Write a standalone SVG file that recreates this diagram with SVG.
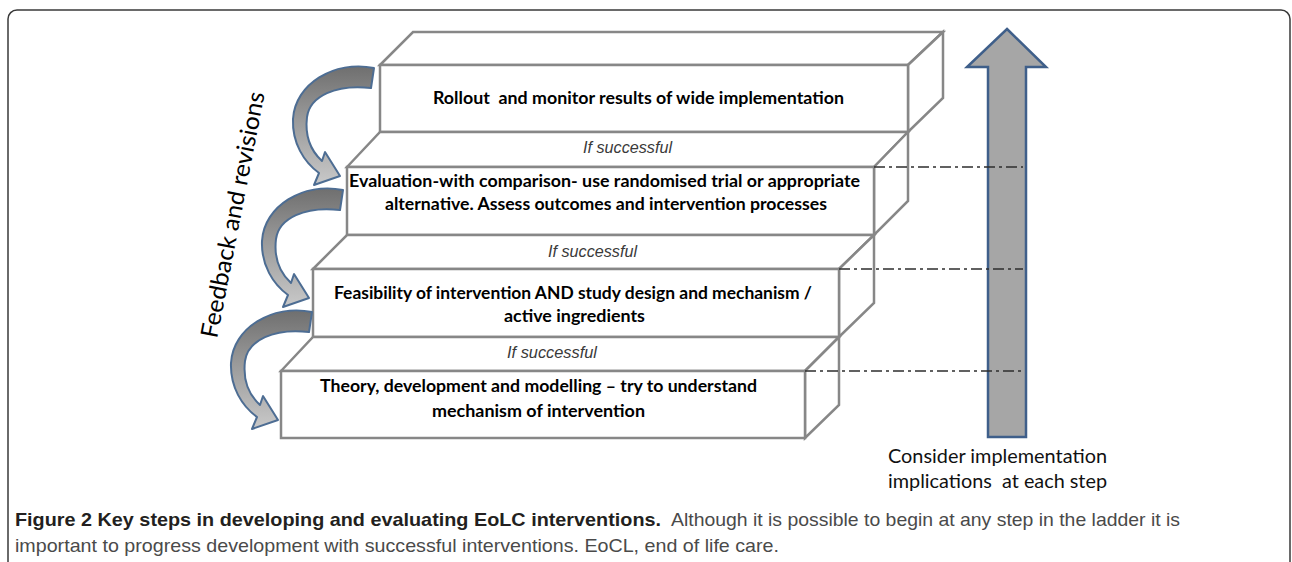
<svg xmlns="http://www.w3.org/2000/svg" xmlns:xlink="http://www.w3.org/1999/xlink" width="1292" height="562" viewBox="0 0 1292 562">
<defs>
<linearGradient id="arrowFill" x1="0" y1="0" x2="0" y2="1">
<stop offset="0" stop-color="#6f6f6f"/>
<stop offset="0.45" stop-color="#9a9a9a"/>
<stop offset="1" stop-color="#c9c9c9"/>
</linearGradient>
<path id="curvedArrow" d="M 374,68 C 334,60 295,84 293,119 C 292,143 304,162 319,173 L 314,185 L 340,176 L 325,152 L 322,161 C 310,150 305,134 307,117 C 310,96 336,84 371,88 Z"/>
</defs>
<style>
.frame{fill:none;stroke:#3a3a3a;stroke-width:1.5}
.face{fill:#ffffff;stroke:#878787;stroke-width:2.5;stroke-linejoin:miter}
.bt{font-family:Lato,"Liberation Sans",sans-serif;font-weight:bold;font-size:16.5px;fill:#000000}
.ifs{font-family:"Liberation Sans",Arial,sans-serif;font-style:italic;font-size:17px;fill:#3a3a3a}
.dd{fill:none;stroke:#2e2e2e;stroke-width:1.4;stroke-dasharray:11 4 3 4}
.carrow{fill:url(#arrowFill);stroke:#4d6d93;stroke-width:2;stroke-linejoin:round}
.big{fill:#a6a6a6;stroke:#3f5f8a;stroke-width:2.5}
.side{font-family:Lato,"Liberation Sans",sans-serif;font-size:19px;fill:#111111}
.fb{font-family:Lato,"Liberation Sans",sans-serif;font-size:24px;fill:#000000}
.capb{font-family:"Liberation Sans",Arial,sans-serif;font-weight:bold;font-size:19px;fill:#231f20}
.capr{font-family:"Liberation Sans",Arial,sans-serif;font-size:19px;fill:#4a4a4a}
.pre{white-space:pre}
</style>
<rect class="frame" x="8" y="10" width="1282" height="600" rx="9" ry="9"/>

<g id="step-rollout">
<polygon class="face" points="380,65 413,32 943,32 908,65"/>
<polygon class="face" points="908,65 943,32 943,98 908,132"/>
<rect class="face" x="380" y="65" width="528" height="67"/>
<text class="bt pre" x="433" y="104" textLength="411" lengthAdjust="spacingAndGlyphs">Rollout  and monitor results of wide implementation</text>
</g>

<g id="step-evaluation">
<polygon class="face" points="347,167 380,132 908,132 874,167"/>
<polygon class="face" points="874,167 908,132 908,201 874,235"/>
<rect class="face" x="347" y="167" width="527" height="68"/>
<text class="ifs" x="583" y="153" textLength="89" lengthAdjust="spacingAndGlyphs">If successful</text>
<text class="bt" x="349" y="187" textLength="511" lengthAdjust="spacingAndGlyphs">Evaluation-with comparison- use randomised trial or appropriate</text>
<text class="bt" x="385" y="210" textLength="442" lengthAdjust="spacingAndGlyphs">alternative. Assess outcomes and intervention processes</text>
</g>

<g id="step-feasibility">
<polygon class="face" points="313,269 347,235 874,235 839,269"/>
<polygon class="face" points="839,269 874,235 874,303 839,337"/>
<rect class="face" x="313" y="269" width="526" height="68"/>
<text class="ifs" x="548" y="257" textLength="89" lengthAdjust="spacingAndGlyphs">If successful</text>
<text class="bt" x="334" y="299" textLength="478" lengthAdjust="spacingAndGlyphs">Feasibility of intervention AND study design and mechanism /</text>
<text class="bt" x="504" y="322" textLength="141" lengthAdjust="spacingAndGlyphs">active ingredients</text>
</g>

<g id="step-theory">
<polygon class="face" points="281,371 313,337 839,337 805,371"/>
<polygon class="face" points="805,371 839,337 839,405 805,438"/>
<rect class="face" x="281" y="371" width="524" height="67"/>
<text class="ifs" x="507" y="358" textLength="90" lengthAdjust="spacingAndGlyphs">If successful</text>
<text class="bt" x="320" y="392" textLength="437" lengthAdjust="spacingAndGlyphs">Theory, development and modelling – try to understand</text>
<text class="bt" x="432" y="417" textLength="213" lengthAdjust="spacingAndGlyphs">mechanism of intervention</text>
</g>

<g id="implementation-arrow">
<polygon class="big" points="1007,29 1046,67 1026,67 1026,437 988,437 988,67 967,67"/>
<text class="side" x="888" y="463" textLength="219" lengthAdjust="spacingAndGlyphs">Consider implementation</text>
<text class="side pre" x="888" y="488" textLength="219" lengthAdjust="spacingAndGlyphs">implications  at each step</text>
</g>

<g id="feedback-label">
<text class="fb" transform="translate(217,339) rotate(-79)" x="0" y="0" textLength="250" lengthAdjust="spacingAndGlyphs">Feedback and revisions</text>
</g>

<g id="connectors">
<use xlink:href="#curvedArrow" href="#curvedArrow" class="carrow"/>
<use xlink:href="#curvedArrow" href="#curvedArrow" class="carrow" transform="translate(-31,122)"/>
<use xlink:href="#curvedArrow" href="#curvedArrow" class="carrow" transform="translate(-62,244)"/>
<line class="dd" x1="874" y1="167" x2="1023" y2="167"/>
<line class="dd" x1="839" y1="269" x2="1023" y2="269"/>
<line class="dd" x1="805" y1="371" x2="1023" y2="371"/>
</g>

<g id="caption">
<text class="capb" x="15" y="526" textLength="646" lengthAdjust="spacingAndGlyphs">Figure 2 Key steps in developing and evaluating EoLC interventions.</text>
<text class="capr" x="671" y="526" textLength="509" lengthAdjust="spacingAndGlyphs">Although it is possible to begin at any step in the ladder it is</text>
<text class="capr" x="15" y="552" textLength="764" lengthAdjust="spacingAndGlyphs">important to progress development with successful interventions. EoCL, end of life care.</text>
</g>
</svg>
